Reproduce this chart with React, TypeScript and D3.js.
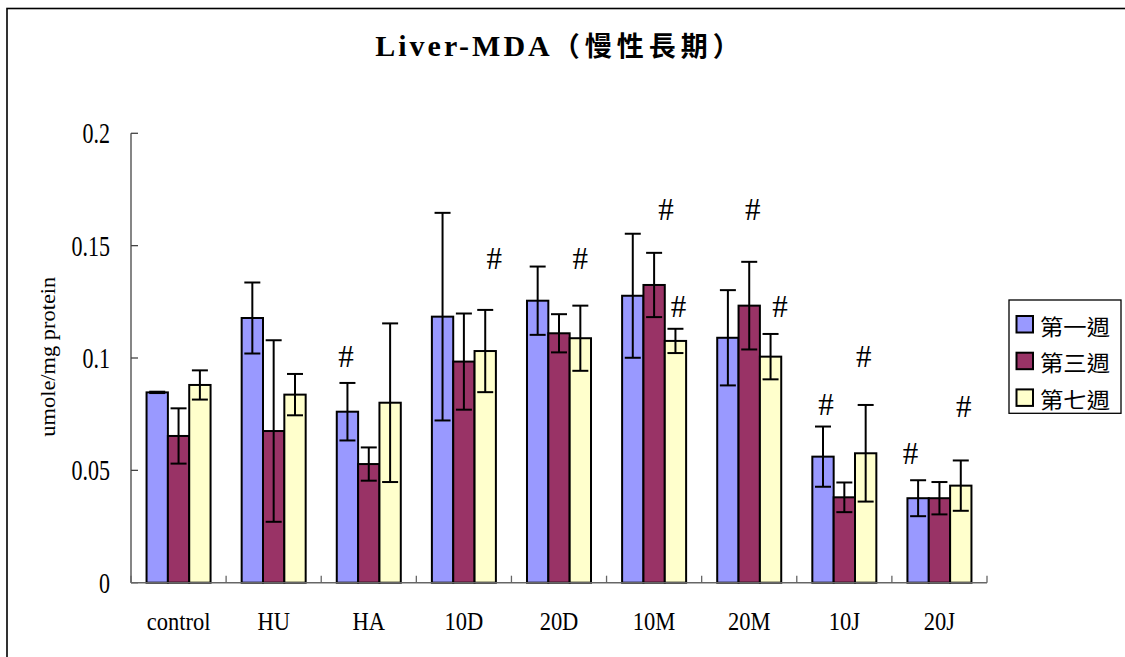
import React from "react";
import * as d3 from "d3";

// ---------- data ----------
const categories = ["control", "HU", "HA", "10D", "20D", "10M", "20M", "10J", "20J"];
const seriesNames = ["第一週", "第三週", "第七週"];
const week1 = [0.0847, 0.1178, 0.0761, 0.1184, 0.1255, 0.1277, 0.109, 0.0561, 0.0376];
const week3 = [0.0653, 0.0675, 0.0528, 0.0984, 0.111, 0.1325, 0.1233, 0.038, 0.0376];
const week7 = [0.088, 0.0837, 0.0801, 0.1031, 0.1088, 0.1076, 0.1006, 0.0576, 0.0432];
const week1Err = [0.0003, 0.0158, 0.0128, 0.0462, 0.0152, 0.0276, 0.0212, 0.0134, 0.008];
const week3Err = [0.0123, 0.0404, 0.0074, 0.0214, 0.0085, 0.0143, 0.0195, 0.0066, 0.0072];
const week7Err = [0.0065, 0.0092, 0.0353, 0.0183, 0.0145, 0.0054, 0.0101, 0.0215, 0.0112];
const yTicks = [0, 0.05, 0.1, 0.15, 0.2];
const yTickLabels = ["0", "0.05", "0.1", "0.15", "0.2"];

// significance marks (#): category, series index, value height
const hashCategory = ["HA", "10D", "20D", "10M", "10M", "20M", "20M", "10J", "10J", "20J", "20J"];
const hashSeries = [0, 2, 2, 1, 2, 1, 2, 0, 2, 0, 2];
const hashValue = [0.1006, 0.1444, 0.1444, 0.1659, 0.1228, 0.1659, 0.1228, 0.0795, 0.1006, 0.0573, 0.0783];

// ---------- layout / style ----------
const W = 1125;
const H = 657;
const plotLeft = 131;
const plotRight = 987;
const plotTop = 133.3;
const plotBottom = 582.7;
const colors = ["#9999FF", "#993366", "#FFFFCC"];
const hashNudge = [-1.5, 9, 0, 12, 3, 3.5, 9.5, 3, -2, -7.5, 3];
const latinFont = "'Liberation Serif', 'Times New Roman', serif";
const cjkFont = "'Noto Sans CJK TC', 'Noto Sans CJK SC', sans-serif";

export default function App() {
  const values = [week1, week3, week7];
  const errs = [week1Err, week3Err, week7Err];

  const x0 = d3
    .scaleBand<string>()
    .domain(categories)
    .range([plotLeft, plotRight])
    .paddingInner(0.327)
    .paddingOuter(0.1635);
  const x1 = d3
    .scaleBand<number>()
    .domain([0, 1, 2])
    .range([0, x0.bandwidth()])
    .padding(0);
  const y = d3.scaleLinear().domain([0, 0.2]).range([plotBottom, plotTop]);

  const step = x0.step();
  const catBounds = d3.range(categories.length + 1).map((i) => plotLeft + i * step);
  const capHalf = 8;

  return (
    <svg
      width={W}
      height={H}
      style={{ position: "absolute", left: 0, top: 0, display: "block", background: "#fff" }}
    >
      <rect x={0} y={0} width={W} height={H} fill="#fff" />
      {/* frame */}
      <rect x={7} y={8.5} width={1300} height={800} fill="none" stroke="#000" strokeWidth={1.6} />

      {/* title */}
      <text x={560} y={56} textAnchor="middle" fontWeight="bold" fontSize={30} fill="#000">
        <tspan fontFamily={latinFont} letterSpacing={3}>Liver-MDA</tspan>
        <tspan fontFamily={cjkFont} fontSize={27} letterSpacing={5}>（慢性長期）</tspan>
      </text>

      {/* y axis */}
      <line x1={plotLeft} x2={plotLeft} y1={plotTop} y2={plotBottom} stroke="#444" strokeWidth={1.3} />
      {yTicks.map((t, i) => (
        <g key={"yt" + i}>
          <line x1={plotLeft} x2={plotLeft + 7} y1={y(t)} y2={y(t)} stroke="#444" strokeWidth={1.3} />
          <text
            transform={`translate(110, ${y(t) + 10}) scale(0.76, 1)`}
            textAnchor="end"
            fontFamily={latinFont}
            fontSize={29}
            fill="#000"
          >
            {yTickLabels[i]}
          </text>
        </g>
      ))}
      <text
        transform={`translate(55, 356.7) rotate(-90)`}
        textAnchor="middle"
        fontFamily={latinFont}
        fontSize={21}
        textLength={160}
        lengthAdjust="spacingAndGlyphs"
        fill="#000"
      >
        umole/mg protein
      </text>

      {/* bars */}
      {categories.map((c, ci) => (
        <g key={c}>
          {values.map((vals, si) => {
            const bx = (x0(c) as number) + (x1(si) as number);
            const bw = x1.bandwidth();
            const v = vals[ci];
            const e = errs[si][ci];
            const cx = bx + bw / 2;
            return (
              <g key={si}>
                <rect
                  x={bx}
                  y={y(v)}
                  width={bw}
                  height={plotBottom - y(v)}
                  fill={colors[si]}
                  stroke="#000"
                  strokeWidth={2}
                />
                <line x1={cx} x2={cx} y1={y(v + e)} y2={y(v - e)} stroke="#000" strokeWidth={2} />
                <line x1={cx - capHalf} x2={cx + capHalf} y1={y(v + e)} y2={y(v + e)} stroke="#000" strokeWidth={2} />
                <line x1={cx - capHalf} x2={cx + capHalf} y1={y(v - e)} y2={y(v - e)} stroke="#000" strokeWidth={2} />
              </g>
            );
          })}
        </g>
      ))}

      {/* x axis */}
      <line x1={plotLeft} x2={plotRight} y1={plotBottom} y2={plotBottom} stroke="#666" strokeWidth={1.6} />
      {catBounds.map((bx, i) => (
        <line key={"xt" + i} x1={bx} x2={bx} y1={plotBottom - 7} y2={plotBottom} stroke="#666" strokeWidth={1.3} />
      ))}
      {categories.map((c) => (
        <text
          key={"xl" + c}
          transform={`translate(${(x0(c) as number) + x0.bandwidth() / 2}, 630) scale(0.9, 1)`}
          textAnchor="middle"
          fontFamily={latinFont}
          fontSize={25}
          fill="#000"
        >
          {c}
        </text>
      ))}

      {/* significance marks */}
      {hashCategory.map((c, i) => {
        const cx = (x0(c) as number) + (x1(hashSeries[i]) as number) + x1.bandwidth() / 2 + hashNudge[i];
        return (
          <text
            key={"h" + i}
            x={cx}
            y={y(hashValue[i])}
            textAnchor="middle"
            dominantBaseline="central"
            fontFamily={latinFont}
            fontSize={31}
            fill="#000"
          >
            #
          </text>
        );
      })}

      {/* legend */}
      <rect x={1009} y={300} width={112} height={113.3} fill="#fff" stroke="#000" strokeWidth={1.3} />
      {seriesNames.map((s, i) => (
        <g key={"lg" + i}>
          <rect
            x={1016.5}
            y={316 + i * 36.7}
            width={16.5}
            height={16.5}
            fill={colors[i]}
            stroke="#000"
            strokeWidth={2}
          />
          <text
            x={1040}
            y={324.5 + i * 36.7}
            dominantBaseline="central"
            fontFamily={cjkFont}
            fontSize={22}
            textLength={70}
            lengthAdjust="spacingAndGlyphs"
            fill="#000"
          >
            {s}
          </text>
        </g>
      ))}
    </svg>
  );
}
